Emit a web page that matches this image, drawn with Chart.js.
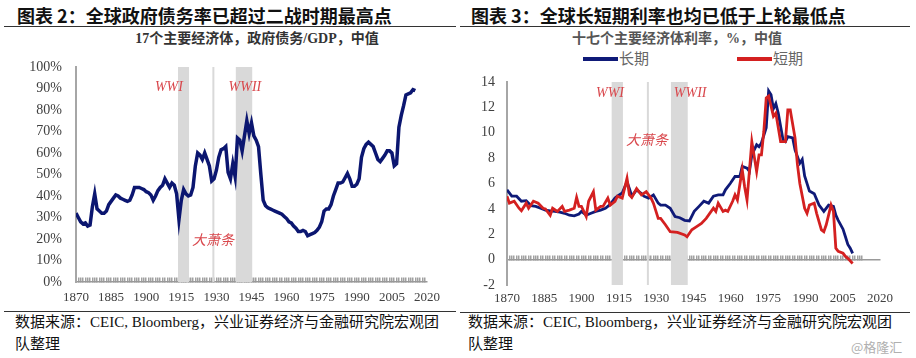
<!DOCTYPE html>
<html>
<head>
<meta charset="utf-8">
<script src="https://cdn.jsdelivr.net/npm/chart.js@4.4.0/dist/chart.umd.min.js"></script>
<style>
  body { margin: 0; width: 916px; height: 358px; background: #fff; position: relative; overflow: hidden;
         font-family: "Liberation Serif", "Noto Sans CJK SC", serif; }
  .abs { position: absolute; white-space: nowrap; }
  .title { top: 5px; font: bold 18px/20px "Noto Sans CJK SC", sans-serif; color: #111; }
  .rule { height: 0; border-top: 1.5px solid #333; }
  .sub { top: 31px; font: bold 14px/16px "Liberation Serif", "Noto Sans CJK SC", serif; transform: translateX(-50%); }
  .foot { font: 15px/22px "Liberation Serif", "Noto Sans CJK SC", serif; color: #111; top: 311px; }
  .swatch { height: 3.5px; }
  .leg { font: 15px/18px "Noto Sans CJK SC", sans-serif; color: #666; top: 49px; }
  canvas { position: absolute; top: 55px; }
</style>
</head>
<body>
<div class="abs title" style="left:17px">图表 2：全球政府债务率已超过二战时期最高点</div>
<div class="abs title" style="left:471px">图表 3：全球长短期利率也均已低于上轮最低点</div>
<div class="abs rule" style="left:4px;width:452px;top:26px"></div>
<div class="abs rule" style="left:460px;width:450px;top:26px"></div>
<div class="abs sub" style="left:257px;color:#333">17个主要经济体，政府债务/GDP，中值</div>
<div class="abs sub" style="left:677px;color:#555">十七个主要经济体利率，%，中值</div>
<div id="legend"></div>

<canvas id="debtChart" width="458" height="250" style="left:0"></canvas>
<canvas id="rateChart" width="458" height="250" style="left:458px"></canvas>

<div class="abs rule" style="left:4px;width:452px;top:311px;border-top-width:1px"></div>
<div class="abs rule" style="left:460px;width:450px;top:312px;border-top-width:1px"></div>
<div class="abs foot" style="left:15px">数据来源：CEIC, Bloomberg，兴业证券经济与金融研究院宏观团<br>队整理</div>
<div class="abs foot" style="left:468px">数据来源：CEIC, Bloomberg，兴业证券经济与金融研究院宏观团<br>队整理</div>
<div class="abs" style="left:851px;top:337px;font:13px 'Noto Sans CJK SC';color:#b0b0b0">@格隆汇</div>

<script>
// 横轴标签
const yearLabels = [1870, 1885, 1900, 1915, 1930, 1945, 1960, 1975, 1990, 2005, 2020];

// 图表2：政府债务/GDP 中值（%），1870 年起逐年
const debtValues = [
  32, 30, 28, 27, 27.5, 26, 26.5, 35, 41, 34,
  33, 32, 32, 33, 36, 37.5, 39, 40.5, 40, 39,
  38.5, 38, 37.5, 38, 40.5, 44, 44, 44, 43.5, 43,
  42, 41.5, 40.5, 38, 40, 42.5, 44, 45, 48, 46,
  44, 46, 45, 41, 29, 38, 43, 41, 40, 40.5,
  44, 54, 60, 59, 57, 60, 57, 54, 47, 48,
  52, 58, 61.5, 62, 63, 51, 48, 55, 49, 67,
  66, 61, 68, 75, 69, 74, 68, 66, 63, 50,
  38, 35.5, 34.5, 34, 33.5, 33, 32.5, 32, 31.5, 30.5,
  29.5, 28, 27.5, 26, 25, 23.5, 23.5, 24, 23.5, 21.5,
  22, 22.5, 23, 24, 25.5, 28, 33, 34, 34, 36,
  40, 43, 46, 46, 46.5, 48.5, 50.5, 48, 44.5, 44.5,
  45.5, 48, 58, 62, 64, 65, 64, 63, 60, 57,
  56, 57.5, 59, 61, 61, 60, 54, 55, 72, 77.5,
  82, 87, 87.5, 88, 89.5, 89
];
const debtYears = debtValues.map((_, i) => 1870 + i);

// 图表3：长期利率中值（%）
const longYears = [
  1870, 1872, 1874, 1876, 1878, 1880, 1882, 1884, 1886, 1888,
  1890, 1892, 1894, 1896, 1898, 1900, 1901, 1903, 1905, 1907,
  1909, 1911, 1913, 1915, 1916, 1918, 1920, 1921, 1922, 1924,
  1926, 1927, 1929, 1931, 1933, 1934, 1936, 1938, 1940, 1942,
  1944, 1946, 1948, 1950, 1952, 1954, 1956, 1958, 1960, 1961,
  1963, 1965, 1967, 1968, 1970, 1971, 1972, 1974, 1975, 1976,
  1978, 1979, 1980, 1981, 1982, 1983, 1985, 1986, 1987, 1989,
  1990, 1992, 1993, 1994, 1996, 1998, 2000, 2002, 2004, 2006,
  2007, 2008, 2010, 2011, 2012, 2013, 2014
];
const longRates = [
  5.5, 5.0, 5.0, 4.6, 4.65, 4.25, 4.2, 4.05, 3.9, 3.85,
  3.8, 3.75, 3.65, 3.5, 3.45, 3.6, 3.8, 3.5, 3.65, 3.8,
  3.9, 4.05, 4.35, 4.85, 5.0, 5.25, 6.15, 5.6, 5.0, 5.5,
  5.2, 5.0, 4.85, 5.1, 4.45, 4.3, 4.3, 4.05, 3.4, 3.3,
  3.1, 3.05, 3.8, 4.2, 4.6, 4.45, 5.0, 5.1, 5.1, 5.5,
  6.0, 6.55, 6.55, 7.35, 7.2, 6.95, 8.25, 9.05, 8.9, 9.2,
  10.4, 13.3, 13.0, 11.9, 12.3, 11.55, 9.45, 9.3, 9.7, 9.6,
  8.65, 7.6, 7.9, 6.6, 5.4, 5.2, 4.3, 3.8, 4.3, 4.2,
  3.5, 3.1, 2.4, 1.8, 1.2, 0.9, 0.5
];

// 图表3：短期利率中值（%）
const shortYears = [
  1870, 1871, 1873, 1875, 1876, 1878, 1879, 1881, 1883, 1885,
  1886, 1888, 1889, 1891, 1893, 1894, 1896, 1898, 1899, 1900,
  1901, 1902, 1903, 1904, 1906, 1907, 1909, 1910, 1912, 1913,
  1915, 1916, 1918, 1920, 1921, 1922, 1924, 1926, 1928, 1930,
  1931, 1933, 1934, 1936, 1938, 1941, 1944, 1945, 1947, 1949,
  1951, 1953, 1956, 1957, 1958, 1960, 1961, 1962, 1964, 1965,
  1966, 1968, 1969, 1970, 1972, 1974, 1975, 1976, 1977, 1978,
  1979, 1981, 1982, 1984, 1986, 1987, 1988, 1990, 1991, 1992,
  1994, 1995, 1996, 1998, 1999, 2001, 2002, 2003, 2005, 2006,
  2007, 2008, 2010, 2011, 2012, 2014
];
const shortRates = [
  5.0, 4.45, 4.6, 4.05, 3.85, 4.45, 4.05, 4.6, 4.45, 4.05,
  4.0, 3.5, 4.05, 3.8, 4.2, 3.8, 3.9, 4.05, 4.9, 4.2,
  4.2, 3.8, 3.4, 4.6, 5.35, 3.9, 4.2, 4.2, 4.85, 4.3,
  4.6, 5.0, 4.85, 6.4, 5.1, 4.9, 5.6, 5.1, 5.35, 4.85,
  4.45, 3.25, 3.25, 2.75, 2.2, 2.15, 1.95, 1.8, 2.35, 2.6,
  2.85, 3.25, 4.05, 3.8, 4.45, 3.8, 3.9, 3.8, 4.6, 5.1,
  4.7, 7.1, 5.75, 4.7, 9.3, 6.95, 8.25, 8.25, 10.1, 12.75,
  12.9, 11.3, 11.55, 9.3, 9.3, 11.8, 11.8, 9.6, 7.5, 6.0,
  4.05, 3.65, 4.3, 4.45, 3.65, 2.35, 2.2, 2.75, 4.3, 3.8,
  0.9, 0.65, 0.5, 0.25, 0.1, -0.3
];

const seriesNames = ['长期', '短期'];
const seriesColors = ['#0f1a78', '#d42020'];

// 阴影区间与标注
const warBands = [[1913.6, 1918.3], [1938.3, 1945.3]];
const crashYear = 1928.7;
const debtNotes = [
  { text: 'WWI', x: 1909.7, y: 90.7 },
  { text: 'WWII', x: 1942.2, y: 90.7 },
  { text: '大萧条', x: 1928.5, y: 19.8, cjk: true }
];
const rateNotes = [
  { text: 'WWI', x: 1912.9, y: 13.1 },
  { text: 'WWII', x: 1946.3, y: 13.1 },
  { text: '大萧条', x: 1928.3, y: 9.45, cjk: true }
];

const serif = '"Liberation Serif", "Noto Sans CJK SC", serif';
const axisGray = '#a6a6a6';

const eventPlugin = {
  id: 'events',
  beforeDatasetsDraw(chart, args, opts) {
    const { ctx, chartArea: a, scales } = chart;
    const xs = scales.x, ys = scales.y;
    ctx.save();
    ctx.fillStyle = '#d9d9d9';
    warBands.forEach(([s, e]) => {
      const x1 = xs.getPixelForValue(s), x2 = xs.getPixelForValue(e);
      ctx.fillRect(x1, a.top, x2 - x1, a.bottom - a.top);
    });
    const xc = xs.getPixelForValue(crashYear);
    ctx.strokeStyle = '#d9d9d9';
    ctx.lineWidth = 2;
    ctx.beginPath();
    ctx.moveTo(xc, a.top);
    ctx.lineTo(xc, a.bottom);
    ctx.stroke();
    ctx.fillStyle = '#d9474c';
    ctx.textAlign = 'center';
    ctx.textBaseline = 'middle';
    opts.notes.forEach(n => {
      ctx.font = n.cjk ? 'italic 14px "Noto Sans CJK SC"' : 'italic 14px "Liberation Serif"';
      ctx.fillText(n.text, xs.getPixelForValue(n.x), ys.getPixelForValue(n.y));
    });
    ctx.restore();
  }
};

const points = (xs, ys) => xs.map((x, i) => ({ x, y: ys[i] }));

// 纵轴：刻度线透明，只用来留出标签与轴线的间距
function yAxis(min, max, step, width, gap, fmt) {
  return {
    min, max,
    afterFit: s => { s.width = width; },
    border: { color: axisGray, width: 2 },
    grid: { drawOnChartArea: false, tickColor: 'rgba(0,0,0,0)', tickLength: gap },
    ticks: { stepSize: step, padding: 0, color: '#404040', font: { family: serif, size: 14 }, callback: fmt }
  };
}

function labelAxis(min, max, height, pad) {
  return {
    type: 'linear', position: 'bottom', min, max,
    afterFit: s => { s.height = height; },
    afterBuildTicks: s => { s.ticks = yearLabels.map(v => ({ value: v })); },
    border: { display: false },
    grid: { display: false, drawTicks: false },
    ticks: { autoSkip: false, maxRotation: 0, padding: pad, color: '#404040',
             font: { family: serif, size: 13 }, callback: v => v }
  };
}

// y=0 处逐年刻度的灰色条带
function bandAxis(min, max, last) {
  return {
    type: 'linear', axis: 'x', position: { y: 0 }, min, max, z: 1,
    border: { color: '#999999', width: 1.5 },
    grid: {
      drawOnChartArea: false, tickLength: -5, lineWidth: 1.5,
      color: c => (c.tick && c.tick.value <= last ? '#a0a0a0' : 'rgba(0,0,0,0)')
    },
    ticks: { display: false, stepSize: 1 }
  };
}

new Chart(document.getElementById('debtChart'), {
  type: 'line',
  data: {
    datasets: [{
      label: '政府债务/GDP',
      data: points(debtYears, debtValues),
      borderColor: '#0b1670',
      borderWidth: 3.5,
      pointRadius: 0,
      tension: 0
    }]
  },
  options: {
    responsive: false,
    animation: false,
    layout: { padding: { top: 12, right: 31, left: 0, bottom: 0 } },
    plugins: { legend: { display: false }, tooltip: { enabled: false }, events: { notes: debtNotes } },
    scales: {
      x: labelAxis(1870, 2020, 23, 8),
      xb: bandAxis(1870, 2020, 2019),
      y: yAxis(0, 100, 10, 76, 14, v => v + '%')
    }
  },
  plugins: [eventPlugin]
});

new Chart(document.getElementById('rateChart'), {
  type: 'line',
  data: {
    datasets: [
      {
        label: seriesNames[0],
        data: points(longYears, longRates),
        borderColor: seriesColors[0],
        borderWidth: 2.8,
        pointRadius: 0,
        order: 1
      },
      {
        label: seriesNames[1],
        data: points(shortYears, shortRates),
        borderColor: seriesColors[1],
        borderWidth: 2.8,
        pointRadius: 0,
        order: 0
      }
    ]
  },
  options: {
    responsive: false,
    animation: false,
    layout: { padding: { top: 27, right: 36, left: 0, bottom: 0 } },
    plugins: { legend: { display: false }, tooltip: { enabled: false }, events: { notes: rateNotes } },
    scales: {
      x: { type: 'linear', display: false, min: 1870, max: 2025.4 },
      xl: labelAxis(1870, 2020, 20, 6),
      xb: bandAxis(1870, 2025.4, 2018),
      y: yAxis(-2, 14, 2, 49, 12, v => v)
    }
  },
  plugins: [eventPlugin]
});

// 图例
const legendPos = [583, 737];
document.getElementById('legend').innerHTML = seriesNames.map((name, i) =>
  `<div class="abs swatch" style="left:${legendPos[i]}px;top:57px;width:35px;background:${seriesColors[i]}"></div>` +
  `<div class="abs leg" style="left:${legendPos[i] + 36}px">${name}</div>`
).join('');
</script>
</body>
</html>
